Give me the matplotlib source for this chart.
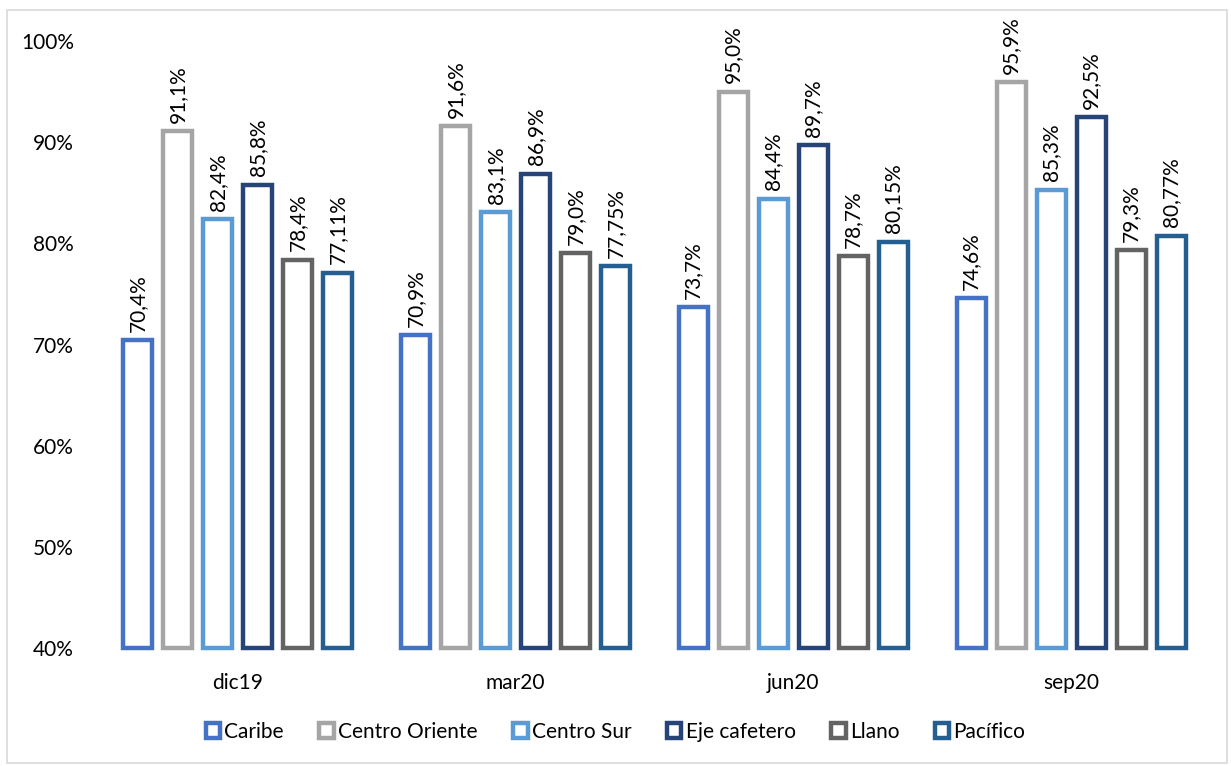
import numpy as np
import matplotlib.pyplot as plt
from matplotlib.patches import Patch, Rectangle

plt.rcParams['font.family'] = ['Lato', 'DejaVu Sans']

# Periods and regions
periods = ["dic19", "mar20", "jun20", "sep20"]
regions = ["Caribe", "Centro Oriente", "Centro Sur", "Eje cafetero", "Llano", "Pacífico"]
colors = ["#4472C4", "#A5A5A5", "#5B9BD5", "#264478", "#636363", "#255E91"]
decimals = [1, 1, 1, 1, 1, 2]

# Values per region (%), one entry per period
caribe = [70.4, 70.9, 73.7, 74.6]
centro_oriente = [91.1, 91.6, 95.0, 95.9]
centro_sur = [82.4, 83.1, 84.4, 85.3]
eje_cafetero = [85.8, 86.9, 89.7, 92.5]
llano = [78.4, 79.0, 78.7, 79.3]
pacifico = [77.11, 77.75, 80.15, 80.77]
series = [caribe, centro_oriente, centro_sur, eje_cafetero, llano, pacifico]

fig = plt.figure(figsize=(12.31, 7.66), dpi=100)
ax = fig.add_axes([0.0804, 0.154, 0.9026, 0.7925])

# outer chart border
fig.patches.append(Rectangle((0.006, 0.004), 0.991, 0.983, transform=fig.transFigure,
                             fill=False, edgecolor="#D9D9D9", linewidth=1.2))

x = np.arange(len(periods))
step = 0.144
width = 0.104
base = 40

for i, (name, vals, col, d) in enumerate(zip(regions, series, colors, decimals)):
    pos = x + (i - 2.5) * step
    heights = [v - base for v in vals]
    ax.bar(pos, heights, width, bottom=base, facecolor="white", edgecolor=col,
           linewidth=3.2, clip_on=False)
    for px, v in zip(pos, vals):
        txt = f"{v:.{d}f}%".replace(".", ",")
        ax.annotate(txt, (px, v), xytext=(0, 6), textcoords="offset points",
                    rotation=90, ha="center", va="bottom", fontsize=15)

ax.set_xlim(-0.5, len(periods) - 0.5)
ax.set_ylim(40, 100)
ax.set_yticks(range(40, 101, 10))
ax.set_yticklabels([f"{t}%" for t in range(40, 101, 10)])
ax.set_xticks(x)
ax.set_xticklabels(periods)
ax.tick_params(axis="both", length=0, labelsize=15)
ax.tick_params(axis="y", pad=18)
ax.tick_params(axis="x", pad=18)
for s in ax.spines.values():
    s.set_visible(False)

handles = [Patch(facecolor="white", edgecolor=c, linewidth=3.2) for c in colors]
fig.legend(handles, regions, loc="center", bbox_to_anchor=(0.5, 0.045), ncol=6,
           frameon=False, fontsize=15, handlelength=0.7, handleheight=0.7,
           handletextpad=0.2, columnspacing=1.7)

fig.savefig("out.png", dpi=100)
